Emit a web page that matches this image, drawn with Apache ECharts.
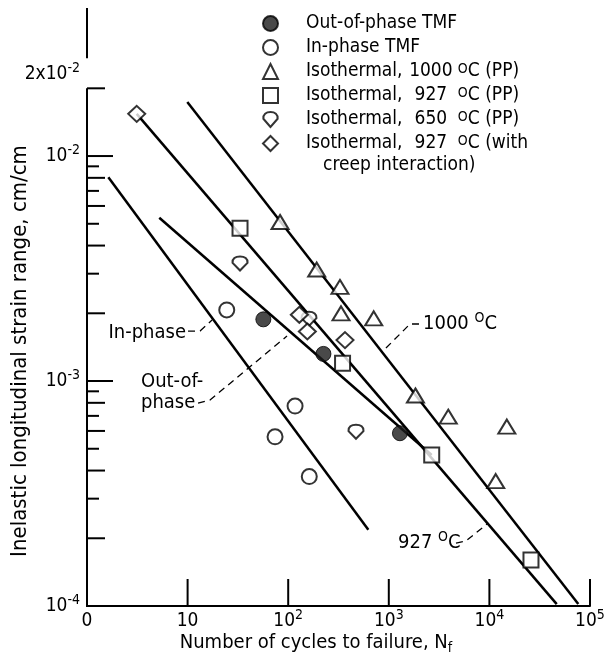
<!DOCTYPE html>
<html><head><meta charset="utf-8">
<script src="https://cdn.jsdelivr.net/npm/echarts@6/dist/echarts.min.js"></script>
<style>html,body{margin:0;padding:0;background:#fff}#c{width:608px;height:668px}</style>
</head><body><div id="c"></div>
<script>
// ---------- data (cycles to failure N, strain range) ----------
const outPhaseN = [56.6, 224, 1290];
const outPhaseStrain = [1.88e-3, 1.32e-3, 5.86e-4];
const inPhaseN = [24.5, 117, 74, 162];
const inPhaseStrain = [2.07e-3, 7.74e-4, 5.65e-4, 3.76e-4];
const iso1000N = [83, 192, 327, 335, 708, 1840, 3900, 14900, 11550];
const iso1000Strain = [5.09e-3, 3.13e-3, 2.62e-3, 2.0e-3, 1.9e-3, 8.62e-4, 6.94e-4, 6.27e-4, 3.59e-4];
const iso927N = [33.2, 347, 2670, 25900];
const iso927Strain = [4.77e-3, 1.2e-3, 4.69e-4, 1.6e-4];
const iso650N = [33.2, 161, 472];
const iso650Strain = [3.33e-3, 1.89e-3, 5.95e-4];
const creepN = [3.12, 129, 155, 367];
const creepStrain = [1.54e-2, 1.97e-3, 1.66e-3, 1.52e-3];

// fitted lines (end points)
const line1000N = [9.93, 76500];
const line1000Strain = [1.74e-2, 1.02e-4];
const line927N = [3.12, 46700];
const line927Strain = [1.54e-2, 1.02e-4];
const lineOutN = [5.23, 2670];
const lineOutStrain = [5.32e-3, 4.69e-4];
const lineInN = [1.63, 626];
const lineInStrain = [8.04e-3, 2.18e-4];

// dashed leaders
const leadInN = [10.1, 13.3, 17.5];
const leadInStrain = [1.668e-3, 1.668e-3, 1.867e-3];
const leadOutN = [12.7, 16.7, 97.3];
const leadOutStrain = [7.98e-4, 8.23e-4, 1.585e-3];
const lead1000N = [1996, 1624, 917];
const lead1000Strain = [1.792e-3, 1.792e-3, 1.388e-3];
const lead927N = [4656, 5853, 9465];
const lead927Strain = [1.905e-4, 1.945e-4, 2.314e-4];

// annotations
const annotText = ['In-phase', 'Out-of-', 'phase', '1000 {sup|O}C', '927 {sup|O}C'];
const annotN = [9.64, 3.44, 3.44, 2188, 1235];
const annotStrain = [1.634e-3, 9.9e-4, 7.98e-4, 1.792e-3, 1.905e-4];
const annotAlign = ['right', 'left', 'left', 'left', 'left'];

// axes
const xMin = 1, xMax = 1e5;
const yMin = 1e-4, yMax = 0.0455;
const xTickValues = [10, 100, 1000, 10000, 100000];
const yTickValues = [2e-4,3e-4,4e-4,5e-4,6e-4,7e-4,8e-4,9e-4,1e-3,
  2e-3,3e-3,4e-3,5e-3,6e-3,7e-3,8e-3,9e-3,1e-2,2e-2];
const yAxisSegments = [[1e-4, 2e-2], [0.0275, 0.0455]];
const yExtraLabel = [2e-2];
const yExtraLabelText = ['2x10{sup|-2}'];

const seriesNames = ['Out-of-phase TMF','In-phase TMF','Isothermal, 1000 °C (PP)',
  'Isothermal, 927 °C (PP)','Isothermal, 650 °C (PP)','Isothermal, 927 °C (with creep interaction)'];
const legendLabels = ['Out-of-phase TMF','In-phase TMF','Isothermal, {num|1000}{sup| O}C (PP)',
  'Isothermal, {num|927}{sup| O}C (PP)','Isothermal, {num|650}{sup| O}C (PP)','Isothermal, {num|927}{sup| O}C (with'];

// ---------- chart ----------
const F = '"Liberation Sans Narrow","DejaVu Sans Condensed","Liberation Sans",sans-serif';
const INK = '#000';
const zip = (a, b) => a.map((v, i) => [v, b[i]]);
const drop650 = 'path://M10,20 L0.5,9 C0,3 4,0 10,0 C16,0 20,3 19.5,9 Z';
const hollow = {color: '#fff', borderColor: INK, borderWidth: 2};
const supRich = {
  sup: {fontFamily: F, fontSize: 14, color: INK, verticalAlign: 'top', lineHeight: 14},
  num: {fontFamily: F, fontSize: 19, color: INK, width: 46, align: 'right'},
  sp: {width: 23}
};

function powLabel(v) {
  const e = Math.round(Math.log10(v));
  if (Math.abs(Math.log10(v) - e) > 1e-6) return '';
  return e;
}

const chart = echarts.init(document.getElementById('c'));
const option = {
  animation: false,
  backgroundColor: '#fff',
  grid: {left: 87, right: 18, top: 8, bottom: 62},
  xAxis: {
    type: 'log', logBase: 10, min: xMin, max: xMax,
    axisLine: {lineStyle: {color: INK, width: 2}},
    axisTick: {show: false}, splitLine: {show: false}, minorTick: {show: false},
    axisLabel: {
      margin: 2, color: INK, fontFamily: F, fontSize: 19, lineHeight: 26,
      formatter: v => {
        const e = powLabel(v);
        if (e === '') return '';
        if (e === 0) return '0';
        if (e === 1) return '10';
        return '10{sup|' + e + '}';
      },
      rich: supRich
    }
  },
  yAxis: {
    type: 'log', logBase: 10, min: yMin, max: yMax,
    axisLine: {show: false}, axisTick: {show: false}, splitLine: {show: false}, minorTick: {show: false},
    axisLabel: {
      margin: 7, color: INK, fontFamily: F, fontSize: 19, lineHeight: 26,
      formatter: v => {
        const e = powLabel(v);
        if (e === '' ) return '';
        return '10{sup|' + e + '}';
      },
      rich: supRich
    }
  },
  legend: {
    orient: 'vertical', left: 257, top: 9, itemWidth: 15, itemHeight: 15, itemGap: 5,
    selectedMode: false,
    textStyle: {fontFamily: F, fontSize: 19, color: INK, lineHeight: 19, rich: supRich},
    formatter: name => '{sp| }' + legendLabels[seriesNames.indexOf(name)],
    data: [
      {name: seriesNames[0], icon: 'circle'},
      {name: seriesNames[1], icon: 'circle'},
      {name: seriesNames[2], icon: 'triangle'},
      {name: seriesNames[3], icon: 'rect'},
      {name: seriesNames[4], icon: drop650},
      {name: seriesNames[5], icon: 'diamond'}
    ]
  },
  graphic: [
    {type: 'text', left: 323, top: 156, style: {text: 'creep interaction)', fontFamily: F, fontSize: 19, fill: INK}},
    {type: 'text', x: 20, y: 351, rotation: Math.PI / 2,
      style: {text: 'Inelastic longitudinal strain range, cm/cm', fontFamily: F, fontSize: 22, fill: INK, align: 'center', verticalAlign: 'middle'}},
    {type: 'text', x: 316, y: 643,
      style: {text: 'Number of cycles to failure, N{sub|f}', fontFamily: F, fontSize: 20, fill: INK, align: 'center', verticalAlign: 'middle',
        rich: {sub: {fontFamily: F, fontSize: 14, fill: INK, verticalAlign: 'bottom', padding: [10, 0, 0, 0]}}}}
  ],
  series: [
    // fitted lines
    {type: 'line', data: zip(line1000N, line1000Strain), symbol: 'none', silent: true, z: 1, lineStyle: {color: INK, width: 2.5}},
    {type: 'line', data: zip(line927N, line927Strain), symbol: 'none', silent: true, z: 1, lineStyle: {color: INK, width: 2.5}},
    {type: 'line', data: zip(lineOutN, lineOutStrain), symbol: 'none', silent: true, z: 1, lineStyle: {color: INK, width: 2.5}},
    {type: 'line', data: zip(lineInN, lineInStrain), symbol: 'none', silent: true, z: 1, lineStyle: {color: INK, width: 2.5}},
    // leaders
    ...[[leadInN, leadInStrain], [leadOutN, leadOutStrain], [lead1000N, lead1000Strain], [lead927N, lead927Strain]].map(p => ({
      type: 'line', data: zip(p[0], p[1]), symbol: 'none', silent: true, z: 1, smooth: false,
      lineStyle: {color: INK, width: 1.3, type: [7, 5]}
    })),
    // data points
    {name: seriesNames[0], type: 'scatter', data: zip(outPhaseN, outPhaseStrain), symbol: 'circle', symbolSize: 15, z: 3,
      itemStyle: {color: '#1c1c1c', borderColor: INK, borderWidth: 1}},
    {name: seriesNames[1], type: 'scatter', data: zip(inPhaseN, inPhaseStrain), symbol: 'circle', symbolSize: 15, z: 3, itemStyle: hollow},
    {name: seriesNames[2], type: 'scatter', data: zip(iso1000N, iso1000Strain), symbol: 'triangle', symbolSize: [17, 14], z: 3, itemStyle: hollow},
    {name: seriesNames[3], type: 'scatter', data: zip(iso927N, iso927Strain), symbol: 'rect', symbolSize: 15, z: 3, itemStyle: hollow},
    {name: seriesNames[4], type: 'scatter', data: zip(iso650N, iso650Strain), symbol: drop650, symbolSize: [15, 14], z: 3, itemStyle: hollow},
    {name: seriesNames[5], type: 'scatter', data: zip(creepN, creepStrain), symbol: 'diamond', symbolSize: [17, 16], z: 3, itemStyle: hollow},
    // y axis line (custom, with gap near top label)
    {type: 'custom', silent: true, z: 4, data: yAxisSegments,
      renderItem: (params, api) => {
        const a = api.coord([xMin, api.value(0)]);
        const b = api.coord([xMin, api.value(1)]);
        return {type: 'line', shape: {x1: a[0], y1: a[1] + 1, x2: b[0], y2: b[1]}, style: {stroke: INK, lineWidth: 2}};
      }},
    // y ticks
    {type: 'custom', silent: true, z: 4, data: yTickValues.map(v => [xMin, v]), encode: {x: 0, y: 1},
      renderItem: (params, api) => {
        const v = api.value(1);
        const p = api.coord([xMin, v]);
        const m = Math.round(v / Math.pow(10, Math.floor(Math.log10(v) + 1e-9)));
        const len = m === 1 ? 26 : (m % 2 === 0 ? 18 : 12);
        return {type: 'line', shape: {x1: p[0], y1: p[1], x2: p[0] + len, y2: p[1]}, style: {stroke: INK, lineWidth: 2}};
      }},
    // x ticks
    {type: 'custom', silent: true, z: 4, data: xTickValues.map(v => [v, yMin]), encode: {x: 0, y: 1},
      renderItem: (params, api) => {
        const p = api.coord([api.value(0), yMin]);
        return {type: 'line', shape: {x1: p[0], y1: p[1], x2: p[0], y2: p[1] - 27}, style: {stroke: INK, lineWidth: 2}};
      }},
    // extra y label 2x10^-2
    {type: 'custom', silent: true, z: 4, data: yExtraLabel.map((v, i) => [xMin, v, i]), encode: {x: 0, y: 1},
      renderItem: (params, api) => {
        const p = api.coord([xMin, api.value(1)]);
        return {type: 'text', x: p[0] - 7, y: p[1] - 14,
          style: {text: yExtraLabelText[api.value(2)], fontFamily: F, fontSize: 19, lineHeight: 26, fill: INK, align: 'right', verticalAlign: 'middle', rich: supRich}};
      }},
    // annotations
    {type: 'custom', silent: true, z: 4, data: annotN.map((v, i) => [v, annotStrain[i], i]), encode: {x: 0, y: 1},
      renderItem: (params, api) => {
        const i = api.value(2);
        const p = api.coord([api.value(0), api.value(1)]);
        return {type: 'text', x: p[0], y: p[1],
          style: {text: annotText[i], fontFamily: F, fontSize: 20, lineHeight: 26, fill: INK, align: annotAlign[i], verticalAlign: 'middle', rich: supRich}};
      }}
  ]
};
chart.setOption(option);
</script></body></html>
